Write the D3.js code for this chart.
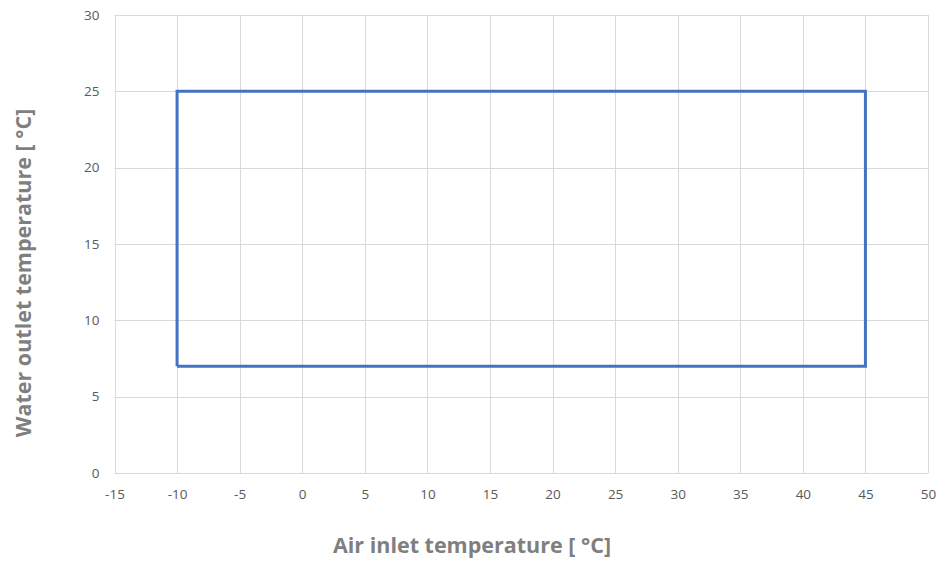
<!DOCTYPE html>
<html>
<head>
<meta charset="utf-8">
<script src="https://cdn.jsdelivr.net/npm/d3@7"></script>
<style>
  body { margin: 0; background: #fff; }
  svg { font-family: "Open Sans", "Noto Sans", sans-serif; }
</style>
</head>
<body>
<div id="chart"></div>
<script>
// operating envelope (air inlet °C, water outlet °C)
const envelopeAir = [-10, 45, 45, -10, -10];
const envelopeWater = [7, 7, 25, 25, 7];
const xTicks = [-15, -10, -5, 0, 5, 10, 15, 20, 25, 30, 35, 40, 45, 50];
const yTicks = [0, 5, 10, 15, 20, 25, 30];

const width = 950, height = 562;
const margin = { top: 15, right: 22, bottom: 89, left: 114.5 };

const x = d3.scaleLinear().domain([-15, 50]).range([margin.left, width - margin.right]);
const y = d3.scaleLinear().domain([0, 30]).range([height - margin.bottom, margin.top]);

const svg = d3.select("#chart").append("svg")
  .attr("width", width)
  .attr("height", height);

// grid
svg.append("g")
  .attr("stroke", "#d9d9d9")
  .attr("stroke-width", 1)
  .call(g => g.selectAll("line.v").data(xTicks).join("line")
    .attr("class", "v")
    .attr("x1", d => Math.round(x(d)) + 0.5).attr("x2", d => Math.round(x(d)) + 0.5)
    .attr("y1", y(30)).attr("y2", y(0)))
  .call(g => g.selectAll("line.h").data(yTicks).join("line")
    .attr("class", "h")
    .attr("y1", d => Math.round(y(d)) + 0.5).attr("y2", d => Math.round(y(d)) + 0.5)
    .attr("x1", x(-15)).attr("x2", x(50)));

// axes (plain hyphen for negatives, like the original)
const fmt = d => String(d);

const xAxis = g => g
  .attr("transform", `translate(0,${Math.round(y(0)) + 0.5})`)
  .call(d3.axisBottom(x).tickValues(xTicks).tickFormat(fmt).tickSize(0).tickPadding(16))
  .call(g => g.select(".domain").remove());

const yAxis = g => g
  .attr("transform", `translate(${x(-15)},0)`)
  .call(d3.axisLeft(y).tickValues(yTicks).tickFormat(fmt).tickSize(0).tickPadding(15))
  .call(g => g.select(".domain").remove());

svg.append("g").call(xAxis)
  .selectAll("text").attr("fill", "#595959").style("font-size", "13.5px")
  .style("font-family", "'Open Sans', sans-serif");
svg.append("g").call(yAxis)
  .selectAll("text").attr("fill", "#595959").style("font-size", "13.5px")
  .style("font-family", "'Open Sans', sans-serif");

// envelope line
const line = d3.line()
  .x(d => x(d[0]))
  .y(d => y(d[1]));

svg.append("path")
  .datum(envelopeAir.map((a, i) => [a, envelopeWater[i]]))
  .attr("fill", "none")
  .attr("stroke", "#4472c4")
  .attr("stroke-width", 3)
  .attr("stroke-linejoin", "miter")
  .attr("d", line);

// titles
svg.append("text")
  .attr("x", 472)
  .attr("y", 553)
  .attr("text-anchor", "middle")
  .attr("fill", "#7f7f7f")
  .style("font-size", "21.5px")
  .style("font-weight", "bold")
  .text("Air inlet temperature [ °C]");

svg.append("text")
  .attr("transform", "translate(31,273) rotate(-90)")
  .attr("text-anchor", "middle")
  .attr("fill", "#7f7f7f")
  .style("font-size", "21.5px")
  .style("font-weight", "bold")
  .text("Water outlet temperature [ °C]");
</script>
</body>
</html>
